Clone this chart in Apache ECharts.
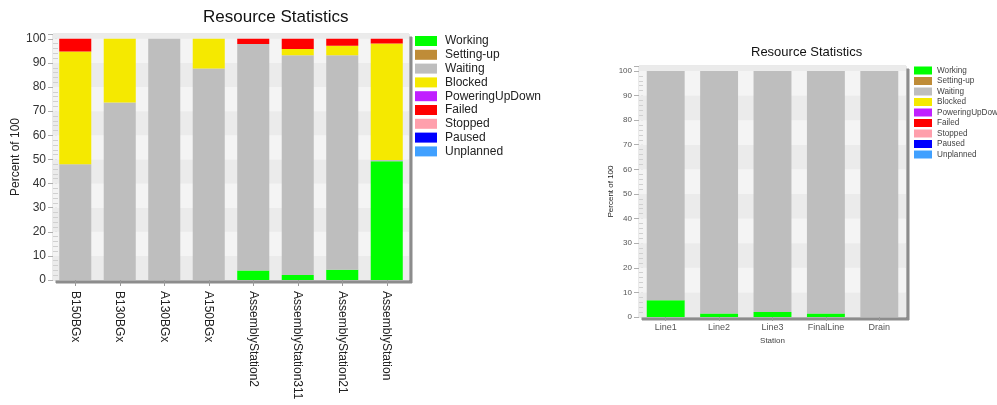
<!DOCTYPE html>
<html>
<head>
<meta charset="utf-8">
<script src="https://cdn.jsdelivr.net/npm/echarts@6/dist/echarts.min.js"></script>
<style>
  html, body { margin: 0; padding: 0; background: #ffffff; }
  #chart { width: 997px; height: 405px; }
</style>
</head>
<body>
<div id="chart"></div>
<script>
// ---- Data ----
const stateNames = ['Working', 'Setting-up', 'Waiting', 'Blocked', 'PoweringUpDown', 'Failed', 'Stopped', 'Paused', 'Unplanned'];
const stateColors = ['#00ff00', '#bf8c38', '#bebebe', '#f5e900', '#c020ff', '#ff0000', '#ff9fac', '#0000ff', '#40a0ff'];

// Left chart
const stationsA = ['B150BGx', 'B130BGx', 'A130BGx', 'A150BGx', 'AssemblyStation2', 'AssemblyStation311', 'AssemblyStation21', 'AssemblyStation'];
const workingA        = [0, 0, 0, 0, 3.9, 2.1, 4.2, 49.2];
const settingUpA      = [0, 0, 0, 0, 0, 0, 0, 0];
const waitingA        = [48.0, 73.6, 100, 87.7, 94.0, 91.1, 89.0, 0.6];
const blockedA        = [46.7, 26.4, 0, 12.3, 0, 2.6, 3.9, 48.3];
const poweringA       = [0, 0, 0, 0, 0, 0, 0, 0];
const failedA         = [5.3, 0, 0, 0, 2.1, 4.2, 2.9, 1.9];
const stoppedA        = [0, 0, 0, 0, 0, 0, 0, 0];
const pausedA         = [0, 0, 0, 0, 0, 0, 0, 0];
const unplannedA      = [0, 0, 0, 0, 0, 0, 0, 0];

// Right chart
const stationsB = ['Line1', 'Line2', 'Line3', 'FinalLine', 'Drain'];
const workingB        = [6.8, 1.4, 2.0, 1.4, 0];
const settingUpB      = [0, 0, 0, 0, 0];
const waitingB        = [93.2, 98.6, 98.0, 98.6, 100];
const blockedB        = [0, 0, 0, 0, 0];
const poweringB       = [0, 0, 0, 0, 0];
const failedB         = [0, 0, 0, 0, 0];
const stoppedB        = [0, 0, 0, 0, 0];
const pausedB         = [0, 0, 0, 0, 0];
const unplannedB      = [0, 0, 0, 0, 0];

const yTicks = [0, 10, 20, 30, 40, 50, 60, 70, 80, 90, 100];

const seriesA = [workingA, settingUpA, waitingA, blockedA, poweringA, failedA, stoppedA, pausedA, unplannedA];
const seriesB = [workingB, settingUpB, waitingB, blockedB, poweringB, failedB, stoppedB, pausedB, unplannedB];

// ---- Chart ----
const FONT = 'Liberation Sans, Arial, sans-serif';
const chart = echarts.init(document.getElementById('chart'), null, { renderer: 'canvas' });

function gridStyle(o) {
  return Object.assign({
    show: true,
    containLabel: false,
    outerBoundsMode: 'none',
    backgroundColor: '#f3f3f3',
    borderColor: '#d4d4d4',
    borderWidth: 1,
    shadowColor: '#8c8c8c',
    shadowOffsetX: 3,
    shadowOffsetY: 3,
    shadowBlur: 0
  }, o);
}

function mainY(gridIndex, fontSize, labelColor, name, nameSize, nameGap) {
  return {
    type: 'value', gridIndex: gridIndex, position: 'left', min: 0, max: 102, interval: 10,
    name: name, nameLocation: 'middle', nameGap: nameGap,
    nameTextStyle: { fontFamily: FONT, fontSize: nameSize, color: '#222' },
    axisLine: { show: false },
    axisTick: { show: true, length: 5, lineStyle: { color: '#b0b0b0' } },
    axisLabel: {
      fontFamily: FONT, fontSize: fontSize, color: labelColor, margin: 7,
      formatter: function (v) { return yTicks.indexOf(v) >= 0 ? String(v) : ''; }
    },
    splitLine: { show: false },
    splitArea: { show: true, areaStyle: { color: ['#ebebeb', '#f4f4f4'] } }
  };
}
function minorY(gridIndex, len) {
  return {
    type: 'value', gridIndex: gridIndex, position: 'left', offset: 0, min: 0, max: 102, interval: 10,
    axisLine: { show: false },
    axisTick: { show: false, inside: true },
    minorTick: { show: true, splitNumber: 5, length: len, lineStyle: { color: '#d0d0d0' } },
    axisLabel: { show: false },
    splitLine: { show: false },
    splitArea: { show: false }
  };
}

const series = [];
stateNames.forEach(function (n, i) {
  series.push({
    name: n, type: 'bar', stack: 'A', xAxisIndex: 0, yAxisIndex: 0,
    data: seriesA[i], barCategoryGap: '28%',
    itemStyle: { color: stateColors[i] }
  });
});
stateNames.forEach(function (n, i) {
  series.push({
    name: n, type: 'bar', stack: 'B', xAxisIndex: 1, yAxisIndex: 2,
    data: seriesB[i], barCategoryGap: '29%',
    itemStyle: { color: stateColors[i] }
  });
});

const option = {
  animation: false,
  backgroundColor: '#ffffff',
  title: [
    { text: 'Resource Statistics', left: 203, top: 9, padding: 0,
      textStyle: { fontFamily: FONT, fontSize: 17, fontWeight: 'normal', color: '#111' } },
    { text: 'Resource Statistics', left: 751, top: 46, padding: 0,
      textStyle: { fontFamily: FONT, fontSize: 13, fontWeight: 'normal', color: '#111' } }
  ],
  legend: [
    { orient: 'vertical', left: 415, top: 35, padding: 0, itemWidth: 22, itemHeight: 10, itemGap: 1.8,
      icon: 'rect', data: stateNames, selectedMode: false,
      textStyle: { fontFamily: FONT, fontSize: 12, color: '#222', padding: [0, 0, 0, 3] } },
    { orient: 'vertical', left: 914, top: 66.5, padding: 0, itemWidth: 18, itemHeight: 8, itemGap: 2.5,
      icon: 'rect', data: stateNames, selectedMode: false,
      textStyle: { fontFamily: FONT, fontSize: 8.2, color: '#444', padding: [0, 0, 0, 0] } }
  ],
  grid: [
    gridStyle({ left: 53, top: 34, width: 356, height: 246 }),
    gridStyle({ left: 639, top: 66, width: 267, height: 251 })
  ],
  xAxis: [
    { type: 'category', gridIndex: 0, data: stationsA,
      name: 'Station', nameLocation: 'middle', nameGap: 117,
      nameTextStyle: { fontFamily: FONT, fontSize: 12, color: '#222' },
      axisLine: { show: false },
      axisTick: { show: true, alignWithLabel: true, length: 6, lineStyle: { color: '#999' } },
      axisLabel: { rotate: -90, fontFamily: FONT, fontSize: 12, color: '#222', margin: 11, interval: 0 } },
    { type: 'category', gridIndex: 1, data: stationsB,
      name: 'Station', nameLocation: 'middle', nameGap: 20,
      nameTextStyle: { fontFamily: FONT, fontSize: 8, color: '#444' },
      axisLine: { show: false },
      axisTick: { show: true, alignWithLabel: true, length: 4, lineStyle: { color: '#999' } },
      axisLabel: { fontFamily: FONT, fontSize: 9, color: '#555', margin: 6, interval: 0 } }
  ],
  yAxis: [
    mainY(0, 12, '#333', 'Percent of 100', 12, 28),
    minorY(0, 5),
    mainY(1, 8, '#555', 'Percent of 100', 8, 21),
    minorY(1, 4)
  ],
  series: series
};
chart.setOption(option);
</script>
</body>
</html>
